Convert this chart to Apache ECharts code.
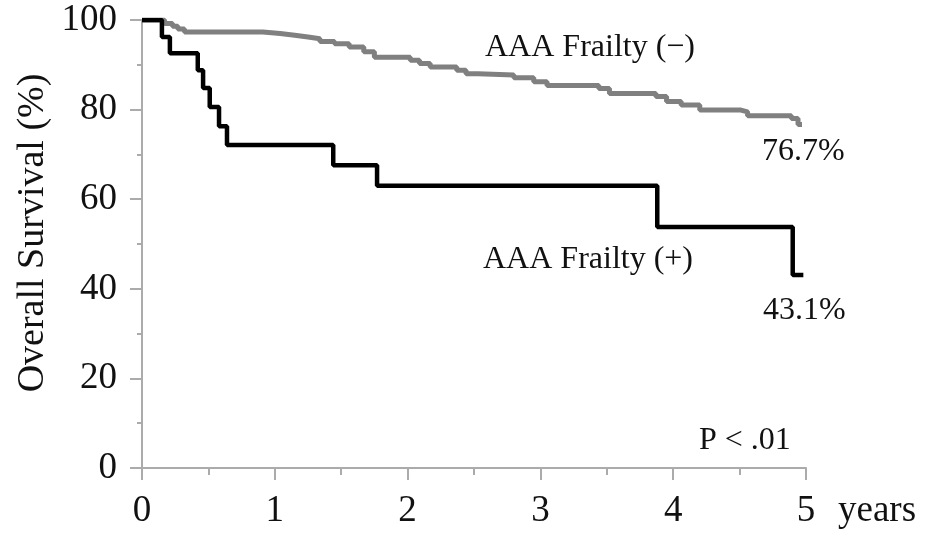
<!DOCTYPE html>
<html>
<head>
<meta charset="utf-8">
<script src="https://cdn.jsdelivr.net/npm/echarts@6/dist/echarts.min.js"></script>
<style>
  html, body { margin: 0; padding: 0; background: #fff; }
  #chart { width: 940px; height: 533px; }
</style>
</head>
<body>
<div id="chart"></div>
<script>
// Kaplan-Meier curves, [years, survival %]
var frailtyNegTimes = [0, 0.17, 0.23, 0.27, 0.32, 0.91, 1.04, 1.15, 1.25, 1.34, 1.45, 1.56, 1.67, 1.75, 2.02, 2.09, 2.17, 2.37, 2.44, 2.53, 2.80, 2.95, 3.05, 3.44, 3.52, 3.87, 3.95, 4.06, 4.20, 4.51, 4.56, 4.89, 4.94, 4.97];
var frailtyNegSurv  = [100, 99.2, 98.6, 98.0, 97.3, 97.0, 96.6, 96.2, 95.8, 95.2, 94.7, 94.0, 92.9, 91.7, 91.0, 90.3, 89.5, 88.8, 88.0, 87.7, 87.1, 86.2, 85.4, 84.7, 83.6, 82.9, 81.8, 81.0, 79.9, 79.5, 78.6, 78.0, 76.7, 76.7];

var frailtyPosTimes = [0, 0.15, 0.21, 0.42, 0.46, 0.51, 0.58, 0.64, 1.44, 1.77, 3.88, 4.90, 4.98];
var frailtyPosSurv  = [100, 96.2, 92.6, 88.8, 84.8, 80.6, 76.3, 72.1, 67.6, 63.0, 53.8, 43.1, 43.1];

var yearTicks = [0, 1, 2, 3, 4, 5];
var survTicks = [0, 20, 40, 60, 80, 100];

function pairs(xs, ys) {
  return xs.map(function (x, i) { return [x, ys[i]]; });
}

var serif = '"Liberation Serif", "Times New Roman", serif';
var axisGrey = '#ababab';

var chart = echarts.init(document.getElementById('chart'));
chart.setOption({
  animation: false,
  backgroundColor: '#fff',
  grid: { left: 142, right: 134, top: 20, bottom: 65, containLabel: false, outerBoundsMode: 'none' },
  xAxis: {
    type: 'value',
    min: yearTicks[0],
    max: yearTicks[yearTicks.length - 1],
    interval: 1,
    axisLine: { show: true, lineStyle: { color: axisGrey, width: 2 } },
    axisTick: { show: true, length: 12, lineStyle: { color: axisGrey, width: 2 } },
    minorTick: { show: true, splitNumber: 2, length: 7, lineStyle: { color: axisGrey, width: 2 } },
    splitLine: { show: false },
    axisLabel: { margin: 25, color: '#111', fontFamily: serif, fontSize: 37 }
  },
  yAxis: {
    type: 'value',
    min: survTicks[0],
    max: survTicks[survTicks.length - 1],
    interval: 20,
    axisLine: { show: true, lineStyle: { color: axisGrey, width: 2 } },
    axisTick: { show: true, length: 12, lineStyle: { color: axisGrey, width: 2 } },
    minorTick: { show: true, splitNumber: 2, length: 5, lineStyle: { color: axisGrey, width: 2 } },
    splitLine: { show: false },
    axisLabel: { margin: 25, color: '#111', fontFamily: serif, fontSize: 37 }
  },
  series: [
    {
      name: 'AAA Frailty (−)',
      type: 'line',
      step: 'end',
      symbol: 'none',
      data: pairs(frailtyNegTimes, frailtyNegSurv),
      lineStyle: { color: '#808080', width: 5 },
      z: 3
    },
    {
      name: 'AAA Frailty (+)',
      type: 'line',
      step: 'end',
      symbol: 'none',
      data: pairs(frailtyPosTimes, frailtyPosSurv),
      lineStyle: { color: '#000', width: 4.5 },
      z: 4
    }
  ],
  graphic: [
    { type: 'text', x: 33, y: 233, rotation: Math.PI / 2,
      style: { text: 'Overall Survival (%)', font: '38px ' + serif, fill: '#111', align: 'center', verticalAlign: 'middle' } },
    { type: 'text', x: 485, y: 48,
      style: { text: 'AAA Frailty (−)', font: '32px ' + serif, fill: '#111', align: 'left', verticalAlign: 'middle' } },
    { type: 'text', x: 762, y: 152,
      style: { text: '76.7%', font: '32px ' + serif, fill: '#111', align: 'left', verticalAlign: 'middle' } },
    { type: 'text', x: 483, y: 260,
      style: { text: 'AAA Frailty (+)', font: '32px ' + serif, fill: '#111', align: 'left', verticalAlign: 'middle' } },
    { type: 'text', x: 763, y: 311,
      style: { text: '43.1%', font: '32px ' + serif, fill: '#111', align: 'left', verticalAlign: 'middle' } },
    { type: 'text', x: 699, y: 441,
      style: { text: 'P < .01', font: '32px ' + serif, fill: '#111', align: 'left', verticalAlign: 'middle' } },
    { type: 'text', x: 838, y: 511,
      style: { text: 'years', font: '37px ' + serif, fill: '#111', align: 'left', verticalAlign: 'middle' } }
  ]
});
</script>
</body>
</html>
